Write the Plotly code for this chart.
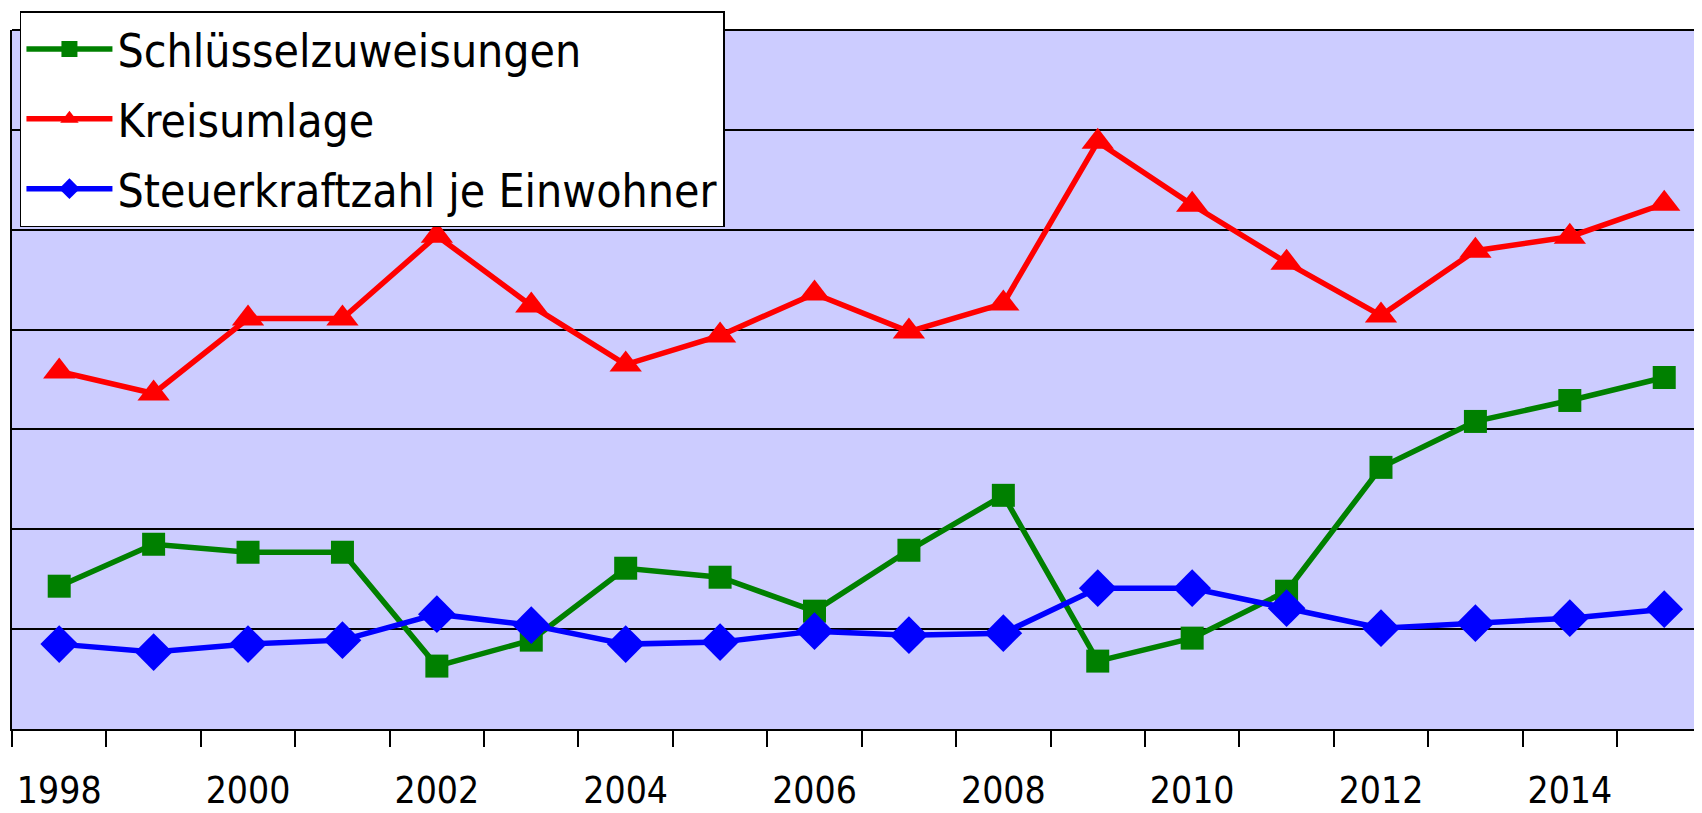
import plotly.graph_objects as go

# Jahre (Kategorien)
jahre = list(range(1998, 2016))
tick_jahre = [1998, 2000, 2002, 2004, 2006, 2008, 2010, 2012, 2014]
tick_text = [str(j) for j in tick_jahre]

# Werte (relative Skala)
schluessel = [1.43, 1.85, 1.77, 1.77, 0.63, 0.89, 1.61, 1.52, 1.18, 1.79,
              2.34, 0.68, 0.91, 1.38, 2.62, 3.08, 3.29, 3.52]
kreisumlage = [3.58, 3.36, 4.11, 4.11, 4.94, 4.24, 3.65, 3.94, 4.36, 3.98,
               4.26, 5.88, 5.25, 4.67, 4.14, 4.79, 4.93, 5.26]
steuerkraft = [0.85, 0.77, 0.85, 0.89, 1.15, 1.04, 0.85, 0.87, 0.98, 0.94,
               0.96, 1.41, 1.41, 1.21, 1.01, 1.06, 1.11, 1.20]

FONT = "DejaVu Sans Condensed, DejaVu Sans, sans-serif"

fig = go.Figure()
fig.add_trace(go.Scatter(
    x=jahre, y=schluessel, name="Schlüsselzuweisungen", legendgroup="a",
    mode="lines+markers", line=dict(color="#008000", width=5.5),
    marker=dict(symbol="square", size=23, color="#008000")))
fig.add_trace(go.Scatter(
    x=jahre, y=kreisumlage, name="Kreisumlage", legendgroup="b",
    mode="lines+markers", line=dict(color="#FF0000", width=5.5),
    marker=dict(symbol="triangle-up", size=28, color="#FF0000")))
fig.add_trace(go.Scatter(
    x=jahre, y=steuerkraft, name="Steuerkraftzahl je Einwohner", legendgroup="c",
    mode="lines+markers", line=dict(color="#0000FF", width=5.5),
    marker=dict(symbol="diamond", size=29, color="#0000FF")))

# the page body adds 8px, so the figure is 8px smaller than the window
fig.update_layout(
    width=1694, height=805,
    margin=dict(l=4, t=22, r=0, b=84, autoexpand=False),
    paper_bgcolor="white", plot_bgcolor="#CCCCFF",
    font=dict(family=FONT, size=40, color="black"),
    showlegend=True,
    legend=dict(x=0.0047, y=1.027, xanchor="left", yanchor="top",
                bgcolor="white", bordercolor="black", borderwidth=1.5,
                font=dict(size=46), tracegroupgap=7, itemwidth=86),
    xaxis=dict(range=[1997.5, 2015.4], tickvals=tick_jahre, ticktext=tick_text,
               ticks="", showgrid=False, zeroline=False, automargin=False,
               showline=True, linecolor="black", linewidth=2,
               tickfont=dict(size=37), ticklabelstandoff=28,
               minor=dict(tick0=1997.5, dtick=1, ticks="outside", ticklen=16,
                          tickcolor="black", tickwidth=2, showgrid=False)),
    yaxis=dict(range=[0, 7], dtick=1, showticklabels=False, ticks="",
               showgrid=True, gridcolor="black", gridwidth=1.5, zeroline=False,
               automargin=False,
               showline=True, linecolor="black", linewidth=2),
    shapes=[dict(type="line", xref="paper", yref="paper", x0=0, x1=1, y0=1, y1=1,
                 line=dict(color="black", width=2))],
)

fig.write_html("out.html")
